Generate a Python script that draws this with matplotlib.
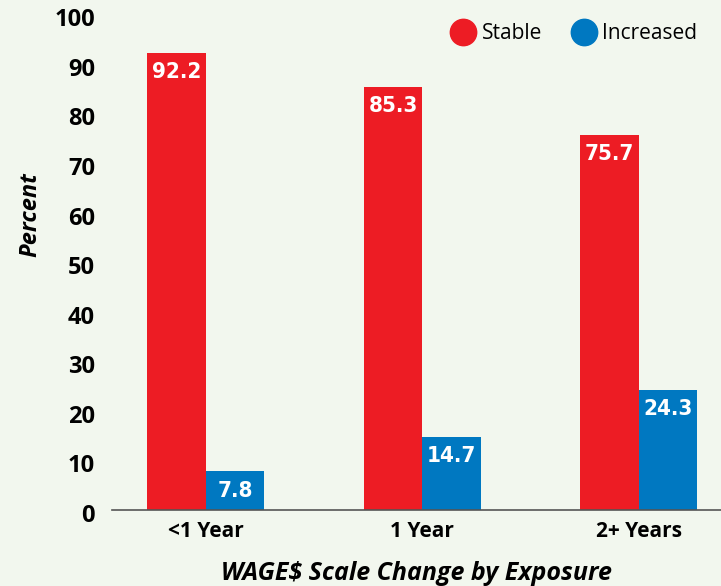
import numpy as np
import matplotlib.pyplot as plt
from matplotlib import font_manager
from matplotlib.lines import Line2D
from matplotlib.transforms import ScaledTranslation

# Data
categories = ["<1 Year", "1 Year", "2+ Years"]
stable = [92.2, 85.3, 75.7]
increased = [7.8, 14.7, 24.3]
yticks = [0, 10, 20, 30, 40, 50, 60, 70, 80, 90, 100]

RED = "#ed1c24"
BLUE = "#0078c1"
BG = "#f2f7ee"
FONT = "Open Sans"

names = {f.name for f in font_manager.fontManager.ttflist}
NARROW = "Liberation Sans Narrow" if "Liberation Sans Narrow" in names else "DejaVu Sans"

fig = plt.figure(figsize=(7.21, 5.86), dpi=100, facecolor=BG)
ax = fig.add_axes([0.155, 0.1297, 0.845, 0.846], facecolor=BG)

x = np.arange(len(categories))
w = 0.27
b1 = ax.bar(x - w / 2, stable, w, color=RED, label="Stable")
b2 = ax.bar(x + w / 2, increased, w, color=BLUE, label="Increased")

for bars, vals in [(b1, stable), (b2, increased)]:
    for rect, v in zip(bars, vals):
        ax.text(rect.get_x() + rect.get_width() / 2, v - 3.9, f"{v:.1f}",
                ha="center", va="center", color="white", fontsize=16,
                fontweight="bold", family=NARROW, fontstretch="condensed")

ax.set_xlim(-0.434, 2.379)
ax.set_ylim(0, 100)
ax.set_yticks(yticks)
ax.set_xticks(x)
ax.set_xticklabels(categories)
ax.tick_params(axis="y", length=0, pad=12, labelsize=17)
ax.tick_params(axis="x", length=0, pad=8, labelsize=15)

for s in ["top", "right", "left"]:
    ax.spines[s].set_visible(False)
ax.spines["bottom"].set_color("#555555")
ax.spines["bottom"].set_linewidth(1.2)

fig.text(0.042, 0.633, "Percent", rotation=90, ha="center", va="center",
         fontsize=17, fontweight="bold", fontstyle="italic", family=FONT)
fig.text(0.577, 0.022, "WAGE$ Scale Change by Exposure", ha="center", va="center",
         fontsize=18, fontweight="bold", fontstyle="italic", family=FONT)

handles = [Line2D([], [], marker="o", linestyle="", markersize=19, color=RED),
           Line2D([], [], marker="o", linestyle="", markersize=19, color=BLUE)]
ax.legend(handles, ["Stable", "Increased"], loc="upper right",
          bbox_to_anchor=(0.992, 1.02), ncol=2, frameon=False,
          prop={"family": FONT, "size": 15}, handletextpad=0.3,
          columnspacing=1.4, handlelength=1.2)

# style tick labels after a draw so the settings stick
fig.canvas.draw()
shift = ScaledTranslation(0, -3 / 100, fig.dpi_scale_trans)
for lab in ax.get_yticklabels() + ax.get_xticklabels():
    lab.set_fontweight("bold")
    lab.set_family(FONT)
for lab in ax.get_yticklabels():
    lab.set_transform(lab.get_transform() + shift)

fig.savefig("out.png", dpi=100, facecolor=BG)
